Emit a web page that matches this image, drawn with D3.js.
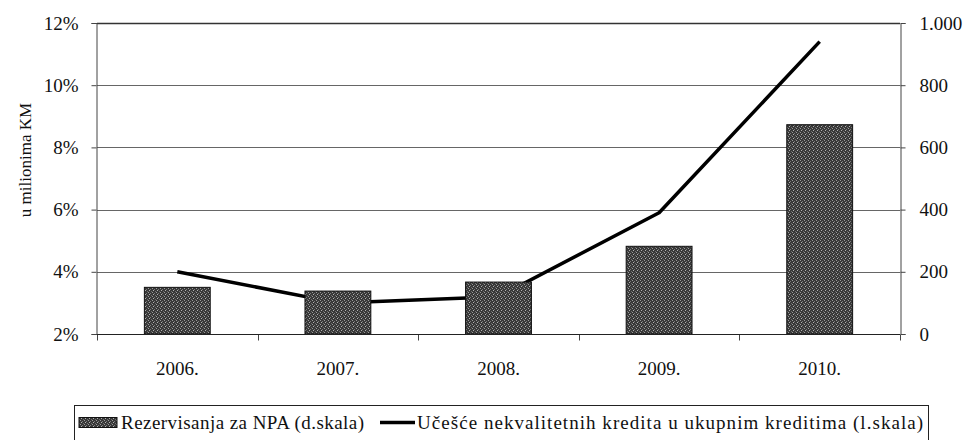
<!DOCTYPE html>
<html>
<head>
<meta charset="utf-8">
<script src="https://cdn.jsdelivr.net/npm/d3@7"></script>
<style>
  html, body { margin: 0; padding: 0; background: #fff; }
  svg { display: block; font-family: "Liberation Serif", "Times New Roman", serif; }
</style>
</head>
<body>
<svg id="chart" width="967" height="440"></svg>
<script>
// Years on the category axis
const years = ["2006.", "2007.", "2008.", "2009.", "2010."];
// Loan-loss provisions for NPA, millions KM (right scale)
const provisions = [150, 138, 167, 282, 673];
// Share of non-performing loans in total loans, % (left scale)
const nplShare = [4.0, 3.0, 3.2, 5.9, 11.4];
// Axis ticks
const leftTicks = [2, 4, 6, 8, 10, 12];
const rightTicks = [0, 200, 400, 600, 800, 1000];

const svg = d3.select("#chart");
const plotLeft = 97, plotRight = 900, plotTop = 23, plotBottom = 334;

const x = d3.scaleBand().domain(years).range([plotLeft, plotRight]).paddingInner(0.59).paddingOuter(0.295);
const yL = d3.scaleLinear().domain([2, 12]).range([plotBottom, plotTop]);
const yR = d3.scaleLinear().domain([0, 1000]).range([plotBottom, plotTop]);

// Stippled dark fill for the bars
const defs = svg.append("defs");
const pat = defs.append("pattern").attr("id", "stipple")
  .attr("width", 4).attr("height", 4).attr("patternUnits", "userSpaceOnUse");
pat.append("rect").attr("width", 4).attr("height", 4).attr("fill", "#383838");
[[0, 0, "#9a9a9a"], [2, 1, "#7a7a7a"], [1, 2, "#b0b0b0"], [3, 3, "#6e6e6e"]].forEach(([px, py, c]) =>
  pat.append("rect").attr("x", px).attr("y", py).attr("width", 1).attr("height", 1).attr("fill", c));

// Horizontal gridlines
svg.append("g").selectAll("line").data(leftTicks).join("line")
  .attr("x1", plotLeft).attr("x2", plotRight)
  .attr("y1", d => Math.round(yL(d)) + 0.5).attr("y2", d => Math.round(yL(d)) + 0.5)
  .attr("stroke", d => d === 12 ? "#333" : "#666")
  .attr("stroke-width", d => d === 12 ? 1.5 : 1);

// Left axis (percent)
const axL = svg.append("g").attr("transform", `translate(${plotLeft - 0.5},0)`)
  .call(d3.axisLeft(yL).tickValues(leftTicks).tickSize(5).tickPadding(13).tickFormat(d => d + "%"));
// Right axis (millions KM)
const axR = svg.append("g").attr("transform", `translate(${plotRight + 0.5},0)`)
  .call(d3.axisRight(yR).tickValues(rightTicks).tickSize(5).tickPadding(14)
    .tickFormat(d => d3.format(",")(d).replace(/,/g, ".")));
[axL, axR].forEach(ax => {
  ax.select(".domain").attr("stroke", "#444");
  ax.selectAll(".tick line").attr("stroke", "#444");
  ax.selectAll(".tick text").attr("font-size", 19).attr("fill", "#111")
    .attr("font-family", "Liberation Serif");
});

// Category axis: boundary ticks between years
const xAxisY = Math.round(plotBottom) + 0.5;
const bounds = d3.range(years.length + 1).map(i => plotLeft + i * x.step());
svg.append("g").selectAll("line").data(bounds).join("line")
  .attr("x1", d => Math.round(d) + 0.5).attr("x2", d => Math.round(d) + 0.5)
  .attr("y1", xAxisY).attr("y2", xAxisY + 6)
  .attr("stroke", "#444");
svg.append("g").selectAll("text").data(years).join("text")
  .attr("x", d => x(d) + x.bandwidth() / 2).attr("y", 375)
  .attr("text-anchor", "middle").attr("font-size", 19).attr("fill", "#111")
  .text(d => d);

// NPL share line (left scale), drawn beneath the bars
const line = d3.line().x((d, i) => x(years[i]) + x.bandwidth() / 2).y(d => yL(d));
svg.append("path").datum(nplShare).attr("d", line)
  .attr("fill", "none").attr("stroke", "#000").attr("stroke-width", 3.5)
  .attr("stroke-linejoin", "round");

// Provision bars (right scale)
svg.append("g").selectAll("rect").data(provisions).join("rect")
  .attr("x", (d, i) => x(years[i]))
  .attr("y", d => yR(d))
  .attr("width", x.bandwidth())
  .attr("height", d => yR(0) - yR(d))
  .attr("fill", "url(#stipple)").attr("stroke", "#111").attr("stroke-width", 1);

// X axis baseline
svg.append("line").attr("x1", plotLeft).attr("x2", plotRight).attr("y1", xAxisY).attr("y2", xAxisY)
  .attr("stroke", "#222").attr("stroke-width", 1.2);

// Y axis title
svg.append("text").attr("transform", "translate(31,160) rotate(-90)")
  .attr("text-anchor", "middle").attr("font-size", 17).attr("fill", "#111")
  .text("u milionima KM");

// Legend (box runs to the bottom edge)
const lg = svg.append("g");
const lgTop = 405, lgH = 40;
lg.append("rect").attr("x", 74.5).attr("y", lgTop + 0.5).attr("width", 854).attr("height", lgH)
  .attr("fill", "#fff").attr("stroke", "#222");
const midY = 422.5;
lg.append("rect").attr("x", 79).attr("y", midY - 5).attr("width", 38).attr("height", 10)
  .attr("fill", "url(#stipple)").attr("stroke", "#111");
lg.append("text").attr("x", 121).attr("y", midY + 6).attr("font-size", 19).attr("fill", "#111")
  .attr("textLength", 243).attr("lengthAdjust", "spacing")
  .text("Rezervisanja za NPA (d.skala)");
lg.append("line").attr("x1", 380).attr("x2", 415).attr("y1", midY).attr("y2", midY)
  .attr("stroke", "#000").attr("stroke-width", 3.5);
lg.append("text").attr("x", 417).attr("y", midY + 6).attr("font-size", 19).attr("fill", "#111")
  .attr("textLength", 506).attr("lengthAdjust", "spacing")
  .text("Učešće nekvalitetnih kredita u ukupnim kreditima (l.skala)");
</script>
</body>
</html>
